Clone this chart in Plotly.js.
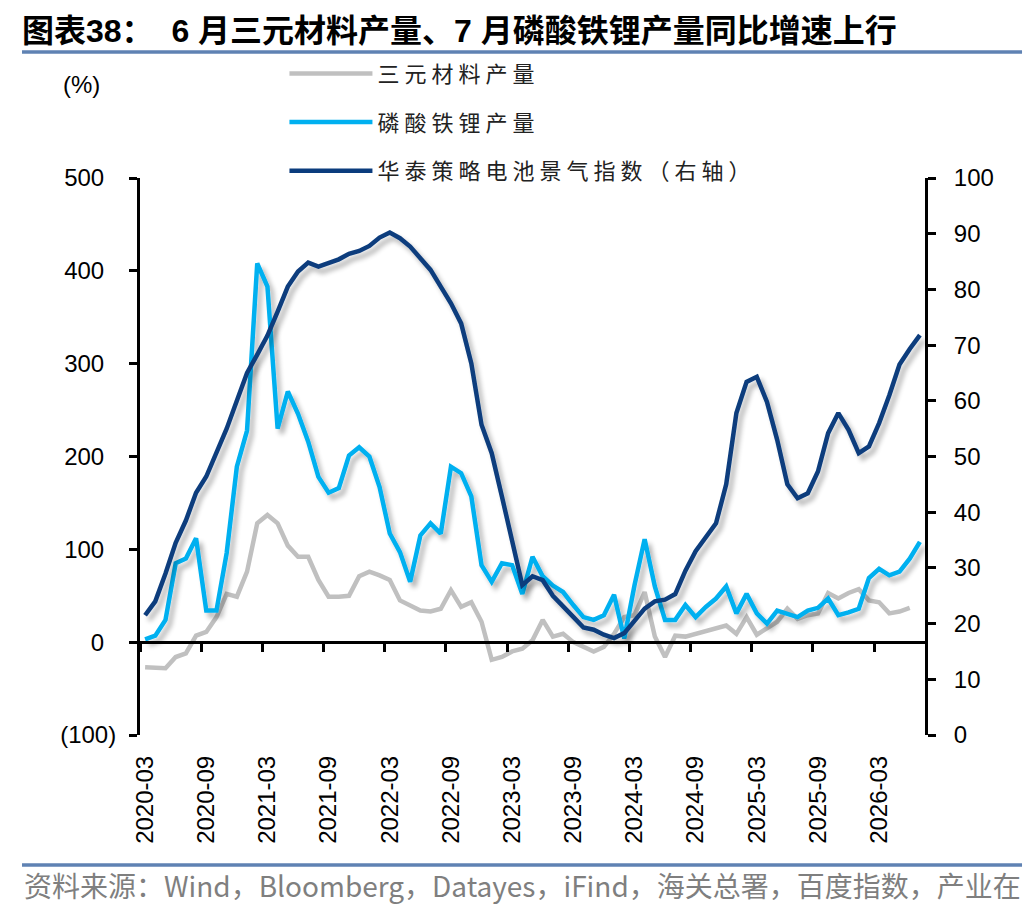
<!DOCTYPE html>
<html>
<head>
<meta charset="utf-8">
<script src="https://cdn.plot.ly/plotly-3.0.1.min.js"></script>
<style>
  html, body { margin: 0; padding: 0; background: #fff; }
  #chart { width: 1036px; height: 916px; }
  .legendtext { letter-spacing: 5px; }
</style>
</head>
<body>
<svg width="0" height="0" style="position:absolute">
  <defs>
    <filter id="lineShadow" filterUnits="userSpaceOnUse" x="-100" y="-100" width="1400" height="1200">
      <feGaussianBlur in="SourceAlpha" stdDeviation="2.6"/>
      <feOffset dx="4" dy="5" result="off"/>
      <feComponentTransfer><feFuncA type="linear" slope="0.3"/></feComponentTransfer>
      <feMerge><feMergeNode/><feMergeNode in="SourceGraphic"/></feMerge>
    </filter>
  </defs>
</svg>
<div id="chart"></div>
<script>
// Monthly categories, 2020-03 .. 2026-07
const months = [
  "2020-03","2020-04","2020-05","2020-06","2020-07","2020-08","2020-09","2020-10","2020-11","2020-12",
  "2021-01","2021-02","2021-03","2021-04","2021-05","2021-06","2021-07","2021-08","2021-09","2021-10","2021-11","2021-12",
  "2022-01","2022-02","2022-03","2022-04","2022-05","2022-06","2022-07","2022-08","2022-09","2022-10","2022-11","2022-12",
  "2023-01","2023-02","2023-03","2023-04","2023-05","2023-06","2023-07","2023-08","2023-09","2023-10","2023-11","2023-12",
  "2024-01","2024-02","2024-03","2024-04","2024-05","2024-06","2024-07","2024-08","2024-09","2024-10","2024-11","2024-12",
  "2025-01","2025-02","2025-03","2025-04","2025-05","2025-06","2025-07","2025-08","2025-09","2025-10","2025-11","2025-12",
  "2026-01","2026-02","2026-03","2026-04","2026-05","2026-06","2026-07"
];

// 三元材料产量同比 (%), left axis — last month not yet reported
const ncmYoy = [
  -27, -27, -28, -16, -12, 7, 11, 27, 52, 49,
  76, 128, 137, 128, 104, 92, 92, 67, 49, 49, 50, 71,
  76, 72, 67, 45, 40, 34, 33, 36, 56, 38, 43, 22,
  -19, -16, -10, -7, 2, 24, 6, 9, 0, -5, -10, -5,
  9, 27, 29, 54, 6, -16, 7, 6, 9, 13, 15, 18,
  9, 27, 8, 15, 22, 36, 25, 29, 31, 53, 47, 53,
  57, 45, 43, 31, 33, 37, null
];

// 磷酸铁锂产量同比 (%), left axis
const lfpYoy = [
  3, 7, 24, 85, 90, 112, 34, 34, 96, 189,
  228, 408, 383, 230, 270, 246, 216, 178, 161, 166, 201, 210,
  200, 167, 117, 97, 65, 115, 128, 117, 189, 182, 157, 83,
  65, 85, 83, 52, 92, 71, 61, 54, 40, 27, 24, 29,
  51, 4, 61, 111, 60, 24, 24, 40, 27, 38, 47, 60,
  31, 52, 31, 20, 34, 31, 27, 34, 37, 47, 29, 32,
  36, 69, 79, 72, 76, 90, 108
];

// 华泰策略电池景气指数, right axis
const batteryIdx = [
  21.5, 24, 29, 34.5, 38.5, 43.5, 46.4, 50.8, 55, 60,
  65, 68.3, 71.7, 76, 80.5, 83.2, 84.8, 84.1, 84.8, 85.4, 86.4, 86.9,
  87.8, 89.3, 90.2, 89.2, 87.7, 85.6, 83.5, 80.5, 77.5, 73.9, 66.7, 55.7,
  50.6, 42.8, 35, 26.9, 28.5, 27.8, 25, 23, 21.2, 19.3, 18.9, 18,
  17.4, 18.3, 20.6, 22.7, 24, 24.3, 25.3, 29.5, 33, 35.5, 38, 45,
  57.8, 63.4, 64.3, 59.8, 53, 45, 42.5, 43.4, 47.3, 54.2, 57.8, 54.8,
  50.6, 51.8, 56, 61, 66.5, 69.3, 71.8
];

const xTicks = ["2020-03","2020-09","2021-03","2021-09","2022-03","2022-09","2023-03",
                "2023-09","2024-03","2024-09","2025-03","2025-09","2026-03"];
const leftTicks = [-100, 0, 100, 200, 300, 400, 500];
const leftTickText = ["(100)", "0\u2002", "100\u2002", "200\u2002", "300\u2002", "400\u2002", "500\u2002"];
const rightTicks = [0, 10, 20, 30, 40, 50, 60, 70, 80, 90, 100];

const seriesNames = ["三元材料产量", "磷酸铁锂产量", "华泰策略电池景气指数（右轴）"];
const COLORS = { ncm: "#c0c0c0", lfp: "#00b0f0", navy: "#0b3c7d" };
const SHADOWED = ["lfp", "navy"];

const LATIN = "Liberation Sans, Arial, sans-serif";
const CJK = "Noto Sans CJK SC, sans-serif";

// tick marks sit on the category boundary just left of each labelled month
const boundaryTicks = xTicks.map(m => months.indexOf(m) - 0.5);

const data = [
  {
    type: "scatter", mode: "lines", uid: "ncm", name: seriesNames[0],
    x: months, y: ncmYoy, xaxis: "x", yaxis: "y", legendgroup: "a",
    line: { color: COLORS.ncm, width: 4.5 }, connectgaps: false,
  },
  {
    type: "scatter", mode: "lines", uid: "lfp", name: seriesNames[1],
    x: months, y: lfpYoy, xaxis: "x", yaxis: "y", legendgroup: "b",
    line: { color: COLORS.lfp, width: 4.5 },
  },
  {
    type: "scatter", mode: "lines", uid: "navy", name: seriesNames[2],
    x: months, y: batteryIdx, xaxis: "x2", yaxis: "y2", legendgroup: "c",
    line: { color: COLORS.navy, width: 4.5 },
  },
];

const tickFont = { family: LATIN, size: 24, color: "#000" };
const catRange = [-0.5, months.length - 0.5];

const layout = {
  width: 1036, height: 916,
  paper_bgcolor: "#fff", plot_bgcolor: "#fff",
  margin: { l: 140, r: 111, t: 178, b: 181 },
  showlegend: true,
  legend: {
    x: 0.184, y: 1.225, xanchor: "left", yanchor: "top",
    orientation: "v", itemwidth: 83, tracegroupgap: 17,
    font: { family: CJK, size: 22, color: "#222" },
    bgcolor: "rgba(0,0,0,0)",
  },
  title: {
    text: "图表38：\u00a0\u00a06 月三元材料产量、7 月磷酸铁锂产量同比增速上行",
    xref: "container", yref: "container", x: 22 / 1036, xanchor: "left",
    y: 1 - 31 / 916, yanchor: "middle",
    font: { family: "Liberation Sans, Noto Sans CJK SC, sans-serif", size: 32, color: "#000", weight: "bold" },
  },
  // category axis carrying the zero line and boundary ticks
  xaxis: {
    type: "category", range: catRange, anchor: "free", position: 100 / 600,
    showline: true, linecolor: "#000", linewidth: 3,
    ticks: "outside", ticklen: 8, tickwidth: 3, tickcolor: "#000",
    tickmode: "array", tickvals: boundaryTicks,
    showticklabels: false, showgrid: false, zeroline: false, fixedrange: true,
  },
  // same categories, labels only, at the bottom of the plot
  xaxis2: {
    type: "category", range: catRange, overlaying: "x", anchor: "free", position: 0,
    showline: false, ticks: "", tickmode: "array", tickvals: xTicks,
    tickangle: -90, tickfont: tickFont, ticklabelstandoff: 15,
    showgrid: false, zeroline: false, fixedrange: true,
  },
  yaxis: {
    range: [-100, 500], domain: [0, 1], anchor: "x",
    tickmode: "array", tickvals: leftTicks, ticktext: leftTickText,
    showline: true, linecolor: "#000", linewidth: 3,
    ticks: "outside", ticklen: 8, tickwidth: 3, tickcolor: "#000",
    tickfont: tickFont, ticklabelstandoff: 8,
    showgrid: false, zeroline: false, fixedrange: true,
  },
  yaxis2: {
    range: [0, 100], overlaying: "y", side: "right", anchor: "x",
    tickmode: "array", tickvals: rightTicks,
    showline: true, linecolor: "#000", linewidth: 3,
    ticks: "outside", ticklen: 8, tickwidth: 3, tickcolor: "#000",
    tickfont: tickFont, ticklabelstandoff: 13,
    showgrid: false, zeroline: false, fixedrange: true,
  },
  shapes: [
    { type: "line", xref: "paper", yref: "paper", x0: -0.1503, x1: 1.1236, y0: 1.2262, y1: 1.2262,
      line: { color: "#5f82b3", width: 3.5 } },
    { type: "line", xref: "paper", yref: "paper", x0: -0.1503, x1: 1.1236, y0: -0.2334, y1: -0.2334,
      line: { color: "#5f82b3", width: 3.5 } },
  ],
  annotations: [
    { text: "(%)", xref: "paper", yref: "paper", x: -0.074, y: 1.167, showarrow: false,
      xanchor: "center", yanchor: "middle", font: { family: LATIN, size: 24, color: "#000" } },
    { text: "资料来源：Wind，Bloomberg，Datayes，iFind，海关总署，百度指数，产业在",
      xref: "paper", yref: "paper", x: -0.1503, y: -0.269, showarrow: false,
      xanchor: "left", yanchor: "middle", font: { family: CJK, size: 28, color: "#7f7f7f" } },
  ],
};

Plotly.newPlot("chart", data, layout, { displayModeBar: false, staticPlot: true }).then(gd => {
  // soft drop shadow under the coloured lines, as in the source chart
  gd.querySelectorAll(".scatterlayer g.trace").forEach(g => {
    const d = g.__data__;
    const uid = d && d[0] && d[0].trace ? d[0].trace.uid : null;
    if (SHADOWED.includes(uid)) {
      g.querySelectorAll("path.js-line").forEach(p => p.setAttribute("filter", "url(#lineShadow)"));
    }
  });
});
</script>
</body>
</html>
